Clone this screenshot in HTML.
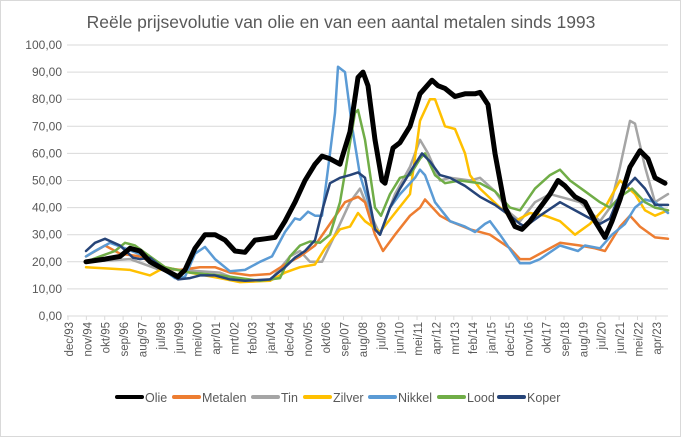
<!DOCTYPE html>
<html><head><meta charset="utf-8"><style>
html,body{margin:0;padding:0;background:#fff}
svg{display:block;font-family:"Liberation Sans",sans-serif}
</style></head><body>
<svg id="c" width="681" height="437" viewBox="0 0 681 437">
<rect x="0.5" y="0.5" width="680" height="436" fill="#fff" stroke="#d9d9d9"/>
<text x="341" y="28" text-anchor="middle" font-size="17.5" fill="#595959">Reële prijsevolutie van olie en van een aantal metalen sinds 1993</text>
<g id="grid"></g><g id="lines"></g><g id="xl"></g>
<g font-size="12.5" fill="#595959">
<rect x="115" y="395" width="29" height="4" rx="2" fill="#000"/><text x="145" y="402">Olie</text>
<rect x="172" y="395" width="29" height="4" rx="2" fill="#ED7D31"/><text x="202" y="402">Metalen</text>
<rect x="251" y="395" width="29" height="4" rx="2" fill="#A5A5A5"/><text x="281" y="402">Tin</text>
<rect x="303" y="395" width="29" height="4" rx="2" fill="#FFC000"/><text x="333" y="402">Zilver</text>
<rect x="368" y="395" width="29" height="4" rx="2" fill="#5B9BD5"/><text x="398" y="402">Nikkel</text>
<rect x="437" y="395" width="29" height="4" rx="2" fill="#70AD47"/><text x="467" y="402">Lood</text>
<rect x="497" y="395" width="29" height="4" rx="2" fill="#264478"/><text x="527" y="402">Koper</text>
</g>
</svg>
<script>
var NS="http://www.w3.org/2000/svg";
function el(p,t,a,txt){var e=document.createElementNS(NS,t);for(var k in a)e.setAttribute(k,a[k]);if(txt)e.textContent=txt;p.appendChild(e);return e;}
var Y=function(v){return 316-v*2.71};
var g=document.getElementById('grid');
for(var i=0;i<=10;i++){var y=Y(i*10);
 if(i>0)el(g,'line',{x1:67,x2:668,y1:y,y2:y,stroke:'#d9d9d9','stroke-width':1});
 el(g,'text',{x:62,y:y+4,'text-anchor':'end','font-size':'12',fill:'#595959'},(i*10)+',00');}
el(g,'line',{x1:67,x2:668,y1:316,y2:316,stroke:'#d9d9d9','stroke-width':1});
var labs="dec/93 nov/94 okt/95 sep/96 aug/97 jul/98 jun/99 mei/00 apr/01 mrt/02 feb/03 jan/04 dec/04 nov/05 okt/06 sep/07 aug/08 jul/09 jun/10 mei/11 apr/12 mrt/13 feb/14 jan/15 dec/15 nov/16 okt/17 sep/18 aug/19 jul/20 jun/21 mei/22 apr/23".split(' ');
var xl=document.getElementById('xl');
for(var i=0;i<labs.length;i++){var x=68+i*18.37;
 el(xl,'line',{x1:x,x2:x,y1:316,y2:320,stroke:'#d9d9d9'});
 el(xl,'text',{x:0,y:0,transform:'translate('+(x+5)+',322) rotate(-90)','text-anchor':'end','font-size':'11.5',fill:'#595959'},labs[i]);}
var S={
tin:[86,20,130,21,160,17,180,17,220,16,240,13,270,13,290,22,300,24,310,20,322,20,335,30,350,42,360,47,370,38,380,30,395,45,410,55,420,65,428,60,440,50,450,51,470,50,480,51,495,46,510,38,520,35,535,42,550,45,560,44,580,42,600,35,610,40,620,55,630,72,635,71,645,55,655,42,668,45],
met:[86,22,105,26,120,23,140,22,160,18,180,17,200,18,215,18,230,16,250,15,270,15.5,285,19,300,22,315,26,330,34,345,42,358,44,365,42,375,30,383,24,395,30,410,37,420,40,425,43,440,37,450,35,470,32,490,30,510,25,520,21,530,21,545,24,560,27,580,26,595,25,605,24,620,33,630,37,640,33,655,29,668,28.5],
zil:[86,18,110,17.5,130,17,150,15,165,18,190,16,220,14,240,12.5,270,13,285,16,300,18,315,19,325,25,340,32,350,33,358,38,365,35,380,31,395,38,410,45,420,72,430,80,435,80,445,70,455,69,465,60,470,52,480,47,500,40,515,35,530,38,545,37,560,35,575,30,590,34,605,40,620,50,635,45,645,39,655,37,668,39],
nik:[86,22,95,24,110,27,125,25,145,22,160,18,175,14,185,14.5,195,23,205,25.5,215,21,230,16.5,245,17,260,20,272,22,285,31,295,36,300,35.5,308,38.5,315,37,322,37,330,60,335,75,338,92,345,90,352,70,360,52,370,40,375,32,380,30,390,40,400,45,415,51,420,54,425,52,435,42,450,35,465,33,475,31,485,34,490,35,500,30,515,22,520,19.5,530,19.5,540,21,560,26,578,24,585,26,600,25,612,30,625,34,635,40,645,43,655,42,668,38],
lood:[86,20,100,22,115,24,125,27,135,26,150,22,165,18,190,16,220,15,240,14,260,13,280,14,290,22,300,26,310,27.5,320,27,330,30,340,42,346,55,355,75,358,76,365,65,375,40,381,37,390,45,400,51,410,52,420,58,425,60,435,52,445,49,460,50,480,49,495,46,510,40,520,39,535,47,550,52,560,54,570,50,585,46,600,42,610,40,620,44,632,47,645,42,655,40,668,39],
kop:[86,24,95,27,105,28.5,120,26,133,21.5,140,21,150,21.5,165,17,178,13.5,190,14,200,15,215,15,230,13.5,245,13,270,13.5,285,18,295,21.5,305,24,315,28,323,40,330,49,340,51,350,52,358,53,365,51,375,32,380,30,390,40,400,47,415,56,422,60,430,57,440,52,450,51,465,48,480,44,495,41,510,37,520,34,525,33,540,37,560,42,580,38,600,34,610,36,620,45,635,51,645,47,655,41,668,41],
olie:[86,20,105,21,120,22,130,25,140,24,150,20,165,17,178,14.5,185,17,195,25,205,30,215,30,225,28,235,24,245,23.5,255,28,265,28.5,275,29,285,35,295,42,305,50,315,56,322,59,330,58,340,56,350,68,358,88,363,90,368,85,375,65,382,50,385,49,393,62,400,64,410,70,420,82,432,87,438,85,445,84,455,81,465,82,475,82,480,82.5,488,78,495,60,505,40,515,33,522,32,530,35,540,40,550,45,558,50,565,48,575,44,585,42,595,35,605,29,612,35,620,43,630,55,640,61,648,58,655,51,665,49]};
var cfg=[['tin','#A5A5A5',2.5],['met','#ED7D31',2.5],['zil','#FFC000',2.5],['nik','#5B9BD5',2.5],['lood','#70AD47',2.5],['kop','#264478',2.5],['olie','#000',5]];
var L=document.getElementById('lines');
cfg.forEach(function(c){var d=S[c[0]],p=[];for(var i=0;i<d.length;i+=2)p.push(d[i]+','+Y(d[i+1]).toFixed(1));
 el(L,'polyline',{points:p.join(' '),fill:'none',stroke:c[1],'stroke-width':c[2],'stroke-linejoin':'round','stroke-linecap':'round'});});
</script>
</body></html>
